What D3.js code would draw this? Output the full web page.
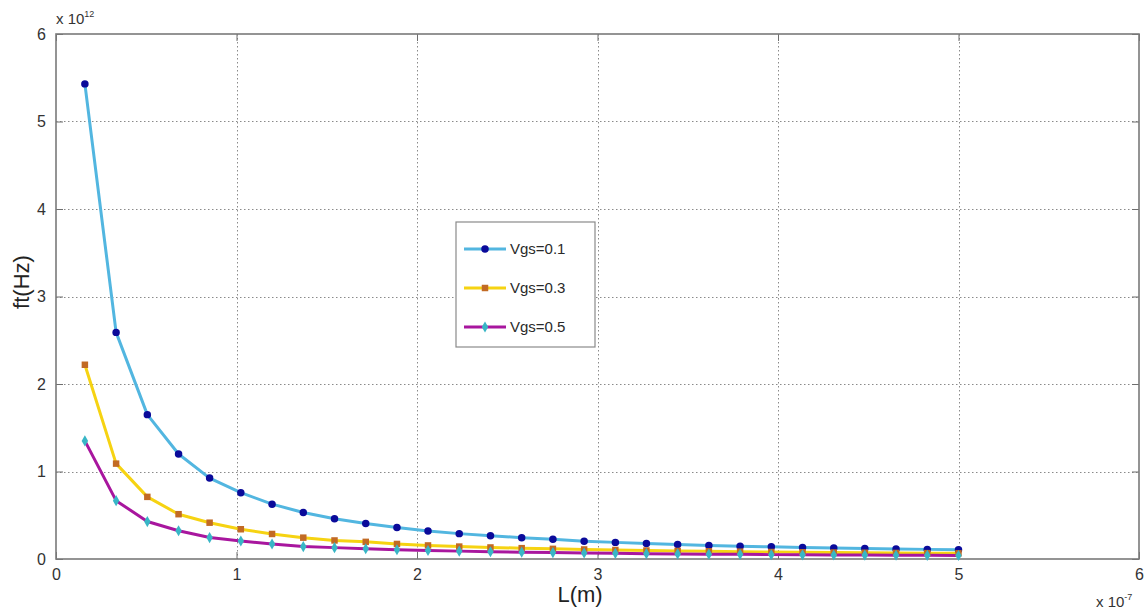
<!DOCTYPE html>
<html>
<head>
<meta charset="utf-8">
<script src="https://cdn.jsdelivr.net/npm/d3@7"></script>
<style>
  html, body { margin: 0; padding: 0; background: #fff; }
  svg { display: block; font-family: Arial, "Liberation Sans", sans-serif; }
</style>
</head>
<body>
<svg id="chart" width="1146" height="614"></svg>
<script>
// Channel length L, in units of 1e-7 m
const lengths = [0.16, 0.333, 0.506, 0.679, 0.851, 1.024, 1.197, 1.37, 1.543, 1.716,
  1.889, 2.061, 2.234, 2.407, 2.58, 2.753, 2.926, 3.099, 3.271, 3.444,
  3.617, 3.79, 3.963, 4.136, 4.309, 4.481, 4.654, 4.827, 5.0];

// Transit frequency ft, in units of 1e12 Hz
const ftVgs01 = [5.43, 2.59, 1.65, 1.20, 0.925, 0.758, 0.627, 0.532, 0.459, 0.406,
  0.36, 0.32, 0.29, 0.266, 0.244, 0.225, 0.204, 0.19, 0.177, 0.165,
  0.154, 0.146, 0.139, 0.132, 0.126, 0.12, 0.115, 0.11, 0.106];
const ftVgs03 = [2.22, 1.09, 0.71, 0.512, 0.415, 0.34, 0.286, 0.244, 0.212, 0.196,
  0.172, 0.155, 0.142, 0.132, 0.124, 0.116, 0.109, 0.103, 0.097, 0.092,
  0.088, 0.084, 0.08, 0.077, 0.074, 0.071, 0.069, 0.067, 0.065];
const ftVgs05 = [1.35, 0.667, 0.428, 0.323, 0.245, 0.206, 0.171, 0.142, 0.13, 0.117,
  0.106, 0.097, 0.09, 0.083, 0.078, 0.073, 0.069, 0.065, 0.061, 0.058,
  0.055, 0.053, 0.05, 0.048, 0.046, 0.045, 0.043, 0.042, 0.04];

const seriesNames = ["Vgs=0.1", "Vgs=0.3", "Vgs=0.5"];
const xTicks = [0, 1, 2, 3, 4, 5, 6];
const yTicks = [0, 1, 2, 3, 4, 5, 6];

const series = [
  { name: seriesNames[0], values: ftVgs01, line: "#52b6e0", marker: "#0a0a9a", shape: d3.symbolCircle, size: 44 },
  { name: seriesNames[1], values: ftVgs03, line: "#f6d312", marker: "#c26a24", shape: d3.symbolSquare, size: 42 },
  { name: seriesNames[2], values: ftVgs05, line: "#a8169e", marker: "#38b6c6", shape: d3.symbolDiamond, size: 36 }
];

const svg = d3.select("#chart");
const m = { left: 56, right: 1139, top: 34, bottom: 559 };

const x = d3.scaleLinear().domain([0, 6]).range([m.left, m.right]);
const y = d3.scaleLinear().domain([0, 6]).range([m.bottom, m.top]);

// grid
const grid = svg.append("g").attr("stroke", "#8a8a8a").attr("stroke-width", 1)
  .attr("stroke-dasharray", "1.5,2.5");
grid.selectAll("line.gx").data(xTicks.slice(1, -1)).join("line")
  .attr("x1", d => Math.round(x(d)) + 0.5).attr("x2", d => Math.round(x(d)) + 0.5)
  .attr("y1", m.top).attr("y2", m.bottom);
grid.selectAll("line.gy").data(yTicks.slice(1, -1)).join("line")
  .attr("y1", d => Math.round(y(d)) + 0.5).attr("y2", d => Math.round(y(d)) + 0.5)
  .attr("x1", m.left).attr("x2", m.right);

// axes (ticks inward, box around plot)
const tickLen = 7;
const xAxis = d3.axisBottom(x).tickValues(xTicks).tickSize(-tickLen).tickPadding(10).tickFormat(d3.format("d"));
const yAxis = d3.axisLeft(y).tickValues(yTicks).tickSize(-tickLen).tickPadding(10).tickFormat(d3.format("d"));
const xTop = d3.axisTop(x).tickValues(xTicks).tickSize(-tickLen).tickFormat("");
const yRight = d3.axisRight(y).tickValues(yTicks).tickSize(-tickLen).tickFormat("");

function styleAxis(g) {
  g.select(".domain").remove();
  g.selectAll(".tick line").attr("stroke", "#6e6e6e");
  g.selectAll(".tick text").attr("fill", "#333").attr("font-size", 16);
}
svg.append("g").attr("transform", `translate(0,${m.bottom})`).call(xAxis).call(styleAxis);
svg.append("g").attr("transform", `translate(${m.left},0)`).call(yAxis).call(styleAxis);
svg.append("g").attr("transform", `translate(0,${m.top})`).call(xTop).call(styleAxis);
svg.append("g").attr("transform", `translate(${m.right},0)`).call(yRight).call(styleAxis);

svg.append("rect")
  .attr("x", m.left).attr("y", m.top)
  .attr("width", m.right - m.left).attr("height", m.bottom - m.top)
  .attr("fill", "none").attr("stroke", "#7a7a7a").attr("stroke-width", 1.6);

// data lines and markers
const line = d3.line().x((d, i) => x(lengths[i])).y(d => y(d));
series.forEach(s => {
  svg.append("path").datum(s.values)
    .attr("d", line).attr("fill", "none")
    .attr("stroke", s.line).attr("stroke-width", 3)
    .attr("stroke-linejoin", "round");
});
series.forEach(s => {
  svg.append("g").selectAll("path").data(s.values).join("path")
    .attr("transform", (d, i) => `translate(${x(lengths[i])},${y(d)})`)
    .attr("d", d3.symbol().type(s.shape).size(s.size))
    .attr("fill", s.marker);
});

// exponent labels
const yExp = svg.append("text").attr("x", 56).attr("y", 24).attr("fill", "#333").attr("font-size", 15);
yExp.append("tspan").text("x 10");
yExp.append("tspan").attr("font-size", 9).attr("dy", -7).text("12");

const xExp = svg.append("text").attr("x", 1096).attr("y", 607).attr("fill", "#333").attr("font-size", 15);
xExp.append("tspan").text("x 10");
xExp.append("tspan").attr("font-size", 9).attr("dy", -7).text("-7");

// axis titles
svg.append("text").attr("x", 580).attr("y", 602).attr("text-anchor", "middle")
  .attr("font-size", 22).attr("fill", "#222").text("L(m)");
svg.append("text").attr("transform", "translate(29,282) rotate(-90)")
  .attr("text-anchor", "middle").attr("font-size", 22).attr("fill", "#222").text("ft(Hz)");

// legend
const lg = svg.append("g");
lg.append("rect").attr("x", 456).attr("y", 222).attr("width", 139).attr("height", 125)
  .attr("fill", "#fff").attr("stroke", "#8a8a8a").attr("stroke-width", 1.2);
series.forEach((s, i) => {
  const cy = 249 + i * 39;
  lg.append("line").attr("x1", 464).attr("x2", 506).attr("y1", cy).attr("y2", cy)
    .attr("stroke", s.line).attr("stroke-width", 3);
  lg.append("path").attr("transform", `translate(485,${cy})`)
    .attr("d", d3.symbol().type(s.shape).size(s.size)).attr("fill", s.marker);
  lg.append("text").attr("x", 510).attr("y", cy + 5).attr("font-size", 15)
    .attr("fill", "#2a2a2a").text(s.name);
});
</script>
</body>
</html>
